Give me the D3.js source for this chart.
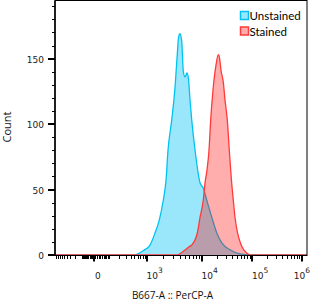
<!DOCTYPE html>
<html><head><meta charset="utf-8">
<script src="https://cdn.jsdelivr.net/npm/d3@7"></script>
<style>html,body{margin:0;padding:0;background:#fff;}svg{display:block;}</style>
</head><body>
<svg id="c" width="312" height="301"></svg>
<script>
// ---- data (fluorescence intensity, count) ----
const unstainedX = [-1000, 500, 850, 1160, 1430, 1712, 2025, 2266, 2463, 2875, 3305, 3639, 3828, 4073, 4375, 4675, 5023, 5455, 5814, 6195, 6650, 7640, 9420, 10850, 12675, 15930, 20000, 25450, 36650, 57800, 91200, 2000000];
const unstainedY = [0, 0, 3.5, 7.6, 16.8, 26.8, 42, 57, 80, 103, 128, 154, 166, 169, 163, 140, 136, 139, 134, 118, 103, 80, 55, 51, 42, 29, 17, 9, 4, 0.8, 0, 0];
const stainedX = [-1000, 3550, 5023, 5940, 6650, 8415, 9420, 10850, 11730, 12850, 14080, 15200, 16900, 19360, 21500, 22700, 24330, 27020, 29200, 32430, 35530, 39600, 42600, 46000, 51600, 59200, 69400, 98650, 2000000];
const stainedY = [0, 0, 3.8, 6.3, 7.6, 17, 29, 42, 55, 65, 80, 103, 126, 145, 153, 150.6, 141, 132, 118.5, 103, 80, 55, 42, 29, 17, 9, 3.8, 0, 0];
const seriesNames = ["Unstained", "Stained"];
const xMajorTicks = [0, 1e3, 1e4, 1e5, 1e6];
const xMajorLabels = [["0", ""], ["10", "3"], ["10", "4"], ["10", "5"], ["10", "6"]];
const yMajorTicks = [0, 50, 100, 150];
const xTitle = "B667-A :: PerCP-A";
const yTitle = "Count";

// ---- layout ----
const L = 55, R = 307, T0 = 1, B = 255.5;
const svg = d3.select("#c");

// biexponential-like transform
const tr = v => Math.asinh(v / 100) / Math.LN10;
const xs = d3.scaleLinear()
  .domain([tr(-1000), tr(0), tr(1e3), tr(1e4), tr(1e5), tr(1e6)])
  .range([L, 93.5, 146.5, 201.5, 252, 301.5]);
const x = v => xs(tr(v));
const y = d3.scaleLinear().domain([0, 194]).range([255, T0]);

svg.append("clipPath").attr("id", "clip").append("rect")
  .attr("x", L).attr("y", T0).attr("width", R - L).attr("height", B - T0);

const g = svg.append("g").attr("clip-path", "url(#clip)");
const mk = (X, Y) => X.map((v, i) => [v, Y[i]]);
const area = d3.area().x(d => x(d[0])).y0(y(0)).y1(d => y(d[1])).curve(d3.curveMonotoneX);
const line = d3.line().x(d => x(d[0])).y(d => y(d[1])).curve(d3.curveMonotoneX);

const u = mk(unstainedX, unstainedY), s = mk(stainedX, stainedY);
g.append("path").attr("d", area(u)).attr("fill", "#9ae7fb");
g.append("path").attr("d", line(u)).attr("fill", "none").attr("stroke", "#00c2f2").attr("stroke-width", 1.3);
g.append("path").attr("d", area(s)).attr("fill", "rgba(255,0,0,0.32)");
g.append("path").attr("d", line(s)).attr("fill", "none").attr("stroke", "#ff3a3a").attr("stroke-width", 1.3);

// frame
svg.append("rect").attr("x", L).attr("y", T0 - 0.5).attr("width", R - L).attr("height", B - T0 + 0.5)
  .attr("fill", "none").attr("stroke", "#000").attr("stroke-width", 1);
svg.append("line").attr("x1", L).attr("x2", L).attr("y1", T0 - 0.5).attr("y2", B)
  .attr("stroke", "#000").attr("stroke-width", 1.5);

// y ticks
const yMinor = d3.range(10, 200, 10).filter(v => v % 50 !== 0);
svg.selectAll(".ymi").data(yMinor).enter().append("line")
  .attr("x1", L - 3).attr("x2", L).attr("y1", d => Math.round(y(d)) + 0.5).attr("y2", d => Math.round(y(d)) + 0.5)
  .attr("stroke", "#000").attr("stroke-width", 1);
svg.selectAll(".yma").data(yMajorTicks).enter().append("line")
  .attr("x1", L - 7).attr("x2", L).attr("y1", d => Math.round(y(d))).attr("y2", d => Math.round(y(d)))
  .attr("stroke", "#000").attr("stroke-width", 2);
svg.selectAll(".ylab").data(yMajorTicks).enter().append("text")
  .attr("x", 44).attr("y", d => y(d) + 4).attr("text-anchor", "end")
  .attr("font-family", "DejaVu Sans").attr("font-size", 9).attr("fill", "#222")
  .text(d => d);

// x ticks
const xMinor = [].concat(
  d3.range(-900, 0, 100), d3.range(-90, 0, 10), d3.range(10, 100, 10), d3.range(100, 1000, 100),
  d3.range(2e3, 1e4, 1e3), d3.range(2e4, 1e5, 1e4), d3.range(2e5, 1e6, 1e5));
svg.selectAll(".xmi").data(xMinor).enter().append("line")
  .attr("x1", d => Math.round(x(d)) + 0.5).attr("x2", d => Math.round(x(d)) + 0.5)
  .attr("y1", B).attr("y2", B + 3.5).attr("stroke", "#000").attr("stroke-width", 1);
svg.selectAll(".xma").data(xMajorTicks).enter().append("line")
  .attr("x1", d => Math.round(x(d))).attr("x2", d => Math.round(x(d)))
  .attr("y1", B).attr("y2", B + 6).attr("stroke", "#000").attr("stroke-width", 2);
svg.append("line").attr("x1", L).attr("x2", R).attr("y1", B).attr("y2", B).attr("stroke", "#000").attr("stroke-width", 1);

xMajorTicks.forEach((v, i) => {
  const last = i === xMajorTicks.length - 1;
  const t = svg.append("text")
    .attr("x", last ? 310 : x(v) + (v === 0 ? 1.5 : 0)).attr("y", 278.5)
    .attr("text-anchor", last ? "end" : "start")
    .attr("font-family", "DejaVu Sans").attr("font-size", 9).attr("fill", "#222");
  t.append("tspan").text(xMajorLabels[i][0]);
  if (xMajorLabels[i][1]) t.append("tspan").attr("dy", -5.5).attr("font-size", 7.5).text(xMajorLabels[i][1]);
});

// axis titles
svg.append("text").attr("x", 172.5).attr("y", 299).attr("text-anchor", "middle")
  .attr("font-family", "Open Sans").attr("font-size", 10).attr("fill", "#111").text(xTitle);
svg.append("text").attr("transform", "translate(11,127) rotate(-90)").attr("text-anchor", "middle")
  .attr("font-family", "Open Sans").attr("font-size", 11).attr("fill", "#111").text(yTitle);

// legend
const legFill = ["#9ae7fb", "#ffadad"], legStroke = ["#00c2f2", "#ff3a3a"];
seriesNames.forEach((n, i) => {
  const yy = 11.5 + i * 15.5;
  svg.append("rect").attr("x", 240.5).attr("y", yy).attr("width", 8).attr("height", 8)
    .attr("fill", legFill[i]).attr("stroke", legStroke[i]).attr("stroke-width", 1.5);
  svg.append("text").attr("x", 249.5).attr("y", yy + 8.7)
    .attr("font-family", "Lato").attr("font-size", 11.5).attr("fill", "#000").text(n);
});
</script>
</body></html>
